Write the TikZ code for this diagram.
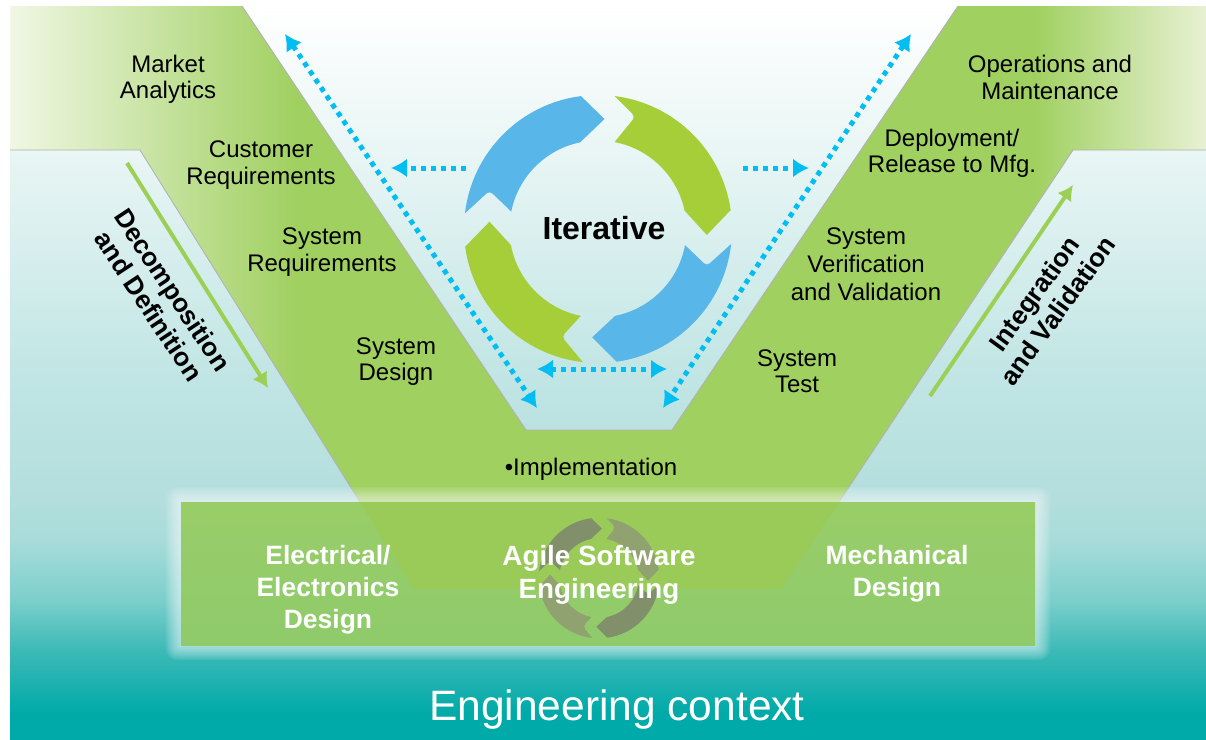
\documentclass[tikz,border=0pt]{standalone}
\usepackage{fontspec}
\setmainfont{Liberation Sans}
\usetikzlibrary{arrows.meta}
\definecolor{arrblue}{HTML}{59B6E8}
\definecolor{arrgreen}{HTML}{A5CE39}
\definecolor{dotblue}{HTML}{00BDF2}
\definecolor{vgreen}{HTML}{A0D060}
\definecolor{overlap}{HTML}{9ACB59}
\definecolor{sideg}{HTML}{9CCF55}
\definecolor{iconA}{HTML}{828F6B}
\definecolor{iconB}{HTML}{8FA270}
\pgfdeclareverticalshading{bgfull}{100bp}{
 color(0bp)=(rgb,255:red,0;green,170;blue,168);
 color(26.8bp)=(rgb,255:red,0;green,170;blue,168);
 color(31bp)=(rgb,255:red,60;green,185;blue,183);
 color(34.5bp)=(rgb,255:red,124;green,207;blue,204);
 color(38.6bp)=(rgb,255:red,168;green,220;blue,218);
 color(41.3bp)=(rgb,255:red,179;green,222;blue,221);
 color(49.5bp)=(rgb,255:red,192;green,229;blue,228);
 color(65.2bp)=(rgb,255:red,233;green,246;blue,245);
 color(75bp)=(rgb,255:red,255;green,255;blue,255);
 color(100bp)=(rgb,255:red,255;green,255;blue,255)}
\pgfdeclarehorizontalshading{vshade}{100bp}{
 color(0bp)=(rgb,255:red,240;green,247;blue,228);
 color(25bp)=(rgb,255:red,240;green,247;blue,228);
 color(37bp)=(rgb,255:red,160;green,208;blue,96);
 color(67.8bp)=(rgb,255:red,160;green,208;blue,96);
 color(75bp)=(rgb,255:red,232;green,241;blue,212);
 color(100bp)=(rgb,255:red,232;green,241;blue,212)}
\newcommand{\cyclearrows}[2]{%
 \fill[#1] (97.3:134) -- (6.5,110) -- (101.6:88.5) arc[start angle=101.6,end angle=168.6,radius=88.5]
   [rounded corners=4] -- (-108.5,38.3) [sharp corners] -- (173.3:134) arc[start angle=173.3,end angle=97.3,radius=134] -- cycle;
 \fill[#2] (82.9:134) [rounded corners=4] -- (37.2,112.3) [sharp corners] -- (79.2:88.5) arc[start angle=79.2,end angle=12,radius=88.5]
   -- (108.8,-6) -- (8.1:134) arc[start angle=8.1,end angle=82.9,radius=134] -- cycle;
 \fill[#1] (-10.5:88.5) [rounded corners=4] -- (108.8,-37) [sharp corners] -- (-6.4:134) arc[start angle=-6.4,end angle=-82,radius=134]
   -- (-5.8,-108.3) -- (-78.8:88.5) arc[start angle=-78.8,end angle=-10.5,radius=88.5] -- cycle;
 \fill[#2] (-108.5,7.3) -- (190.5:88.5) arc[start angle=190.5,end angle=258.8,radius=88.5]
   [rounded corners=4] -- (-36.2,-107.7) [sharp corners] -- (263.5:134) arc[start angle=263.5,end angle=187.6,radius=134] -- cycle;
}
\tikzset{
 lbl/.style={align=center,font=\fontsize{24}{26.5}\selectfont,text=black,inner sep=0},
 boxlbl/.style={align=center,font=\fontsize{26.5}{32}\selectfont\bfseries,text=white,inner sep=0},
 sidelbl/.style={align=center,font=\fontsize{26}{29}\selectfont\bfseries,text=black,inner sep=0},
 dots/.style={draw=dotblue,line width=5,dash pattern=on 5 off 5},
 dottip/.style={dots,-{Latex[length=16,width=19]}},
 dottwo/.style={dots,{Latex[length=16,width=19]}-{Latex[length=16,width=19]}},
 sidearrow/.style={draw=sideg,line width=4,-{Latex[length=15,width=17]}},
 edge/.style={draw=black!30,line width=0.9},
}
\begin{document}
\begin{tikzpicture}[x=1pt,y=1pt]
\useasboundingbox (0,-739) rectangle (1206,0);
% background
\shade[shading=bgfull] (10,-6) rectangle (1206,-739);
% V
\shade[shading=vshade] (10,-6) -- (242,-6) -- (526,-430) -- (672,-430) -- (958,-6) -- (1206,-6) -- (1206,-150) -- (1073,-150) -- (781,-589) -- (414,-589) -- (140,-150) -- (10,-150) -- cycle;
\draw[edge] (242,-6) -- (526,-430) -- (672,-430) -- (958,-6);
\draw[edge] (10,-150) -- (140,-150) -- (360,-502);
\draw[edge] (1206,-150) -- (1073,-150) -- (839,-502);
% glow
\foreach \g in {1,2,...,8}{
 \fill[white,opacity=0.09,rounded corners={1.5*\g}] ({181-1.9*\g},{-502+1.9*\g}) rectangle ({1035+1.9*\g},{-645-1.9*\g});
}
% engineering box
\shade[top color={rgb,255:red,153;green,205;blue,104},bottom color={rgb,255:red,143;green,203;blue,107}] (181,-502) rectangle (1035,-645);
\fill[overlap] (360,-502) -- (839,-502) -- (781,-589) -- (414,-589) -- cycle;
% small cycle
\begin{scope}[shift={(599,-578)},scale=0.45]
\cyclearrows{iconA}{iconB}
\end{scope}
% big cycle
\begin{scope}[shift={(598,-229)}]
\cyclearrows{arrblue}{arrgreen}
\end{scope}
% dotted arrows
\coordinate (la) at (285,-34); \coordinate (lb) at (537,-408);
\coordinate (ra) at (911,-34); \coordinate (rb) at (663,-408);
\coordinate (sl1) at (466,-168); \coordinate (sl2) at (391,-168);
\coordinate (sr1) at (743,-168); \coordinate (sr2) at (809,-168);
\coordinate (bl) at (537,-369); \coordinate (br) at (667,-369);
\draw[dottwo] (la) -- (lb);
\draw[dottwo] (ra) -- (rb);
\draw[dottip] (sl1) -- (sl2);
\draw[dottip] (sr1) -- (sr2);
\draw[dottwo] (bl) -- (br);
% side arrows
\coordinate (gl1) at (127,-163); \coordinate (gl2) at (268,-388);
\coordinate (gr1) at (930,-396); \coordinate (gr2) at (1073,-185);
\draw[sidearrow] (gl1) -- (gl2);
\draw[sidearrow] (gr1) -- (gr2);
% labels
\node[lbl] (market) at (168,-79.5) {Market\\Analytics};
\node[lbl] (cust) at (261,-165) {Customer\\Requirements};
\node[lbl] (sysreq) at (322,-252) {System\\Requirements};
\node[lbl] (sysdes) at (396,-361.5) {System\\Design};
\node[lbl] (impl) at (591,-469) {•Implementation};
\node[lbl] (ops) at (1050,-77.5) {Operations and\\Maintenance};
\node[lbl] (deploy) at (952,-153.5) {Deployment/\\Release to Mfg.};
\node[lbl,font=\fontsize{24}{28}\selectfont] (sysver) at (866,-264.5) {System\\Verification\\and Validation};
\node[lbl] (systest) at (797,-371) {System\\Test};
\node[sidelbl,rotate=-56.5] (decomp) at (161,-298) {Decomposition\\and Definition};
\node[sidelbl,rotate=54] (integ) at (1046,-302) {Integration\\and Validation};
\node[font=\fontsize{32}{36}\selectfont\bfseries,text=black,inner sep=0] (iter) at (604,-228) {Iterative};
\node[boxlbl] (elec) at (328,-590) {Electrical/\\Electronics\\Design};
\node[boxlbl,font=\fontsize{27.8}{33}\selectfont\bfseries] (agile) at (599,-575) {Agile Software\\Engineering};
\node[boxlbl] (mech) at (897,-574) {Mechanical\\Design};
\node[font=\fontsize{42.5}{46}\selectfont,text=white,inner sep=0] (ctx) at (617,-709) {Engineering context};
\end{tikzpicture}
\end{document}
